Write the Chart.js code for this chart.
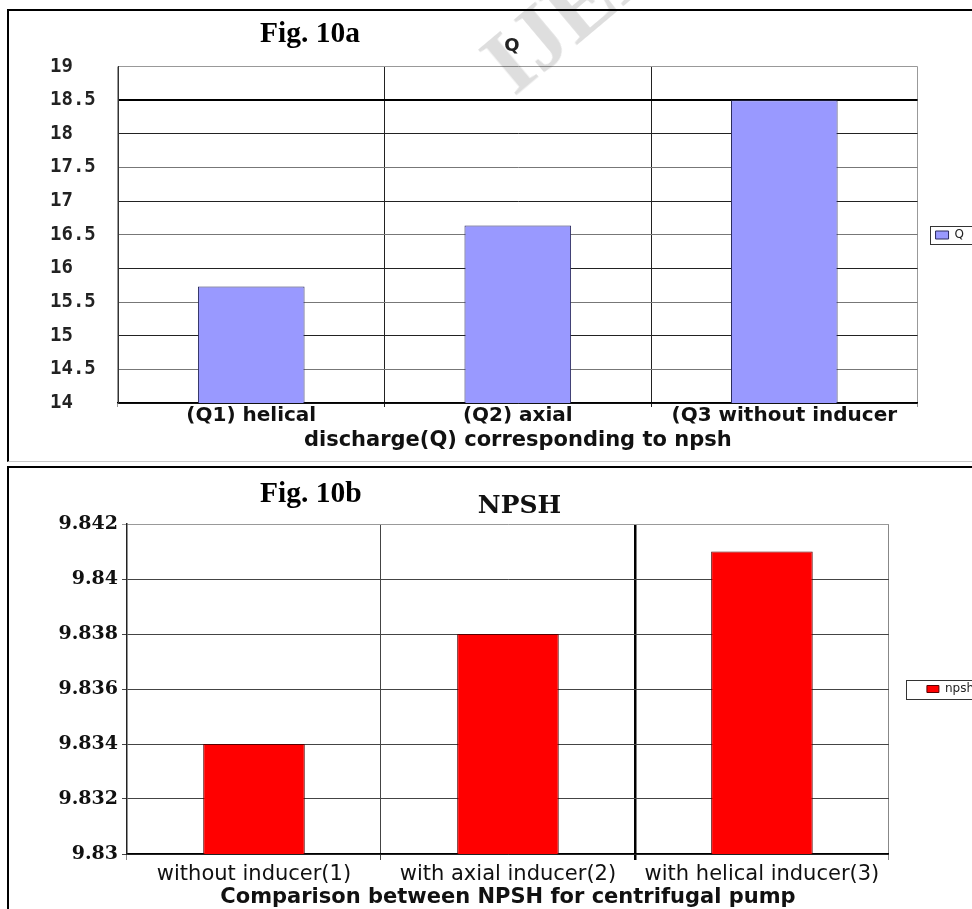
<!DOCTYPE html>
<html>
<head>
<meta charset="utf-8">
<title>Fig. 10 – discharge and NPSH</title>
<script src="https://cdn.jsdelivr.net/npm/chart.js@4.4.1/dist/chart.umd.min.js"></script>
<style>
  html, body { margin: 0; padding: 0; background: #fff; }
  body { width: 972px; height: 909px; overflow: hidden; position: relative; }
  .frame { position: absolute; border-left: 2px solid #000; border-top: 2px solid #000; box-sizing: content-box; }
  #frame1 { left: 7px; top: 9px; width: 1000px; height: 450px; border-bottom: 1px solid #c8c8c8; }
  #frame2 { left: 7px; top: 466px; width: 1000px; height: 460px; }
  canvas { position: absolute; }
  #chartQ { left: 10px; top: 12px; }
  #chartNpsh { left: 10px; top: 469px; }
  .fig { position: absolute; left: 260px; font: bold 29.5px "Liberation Serif", "Times New Roman", serif;
         line-height: 29.5px; color: #000; white-space: nowrap; }
  #figA { top: 18px; }
  #figB { top: 478px; }
  .stamp { position: absolute; left: 524px; top: 19px; font: bold 90px "Liberation Serif", serif;
           color: rgba(0, 0, 0, 0.13); transform: rotate(-40deg); transform-origin: 0 100%;
           white-space: nowrap; pointer-events: none; line-height: 90px; }
</style>
</head>
<body>
<div class="frame" id="frame1"></div>
<div class="frame" id="frame2"></div>
<canvas id="chartQ" width="964" height="446"></canvas>
<canvas id="chartNpsh" width="974" height="440"></canvas>
<div class="fig" id="figA">Fig. 10a</div>
<div class="fig" id="figB">Fig. 10b</div>
<div class="stamp">IJERT</div>
<script>
// Fig. 10a – discharge for each inducer configuration
const qCategories = ['(Q1) helical', '(Q2) axial', '(Q3 without inducer'];
const qValues = [15.73, 16.64, 18.5];
const qTickValues = [14, 14.5, 15, 15.5, 16, 16.5, 17, 17.5, 18, 18.5, 19];
const qTickLabels = ['14', '14.5', '15', '15.5', '16', '16.5', '17', '17.5', '18', '18.5', '19'];
const qSeriesName = 'Q';
const qTitle = 'Q';
const qAxisTitle = 'discharge(Q) corresponding to npsh';

// Fig. 10b – NPSH for each inducer configuration
const npshCategories = ['without inducer(1)', 'with axial inducer(2)', 'with helical inducer(3)'];
const npshValues = [9.834, 9.838, 9.841];
const npshTickValues = [9.83, 9.832, 9.834, 9.836, 9.838, 9.84, 9.842];
const npshTickLabels = ['9.83', '9.832', '9.834', '9.836', '9.838', '9.84', '9.842'];
const npshSeriesName = 'npsh';
const npshTitle = 'NPSH';
const npshAxisTitle = 'Comparison between NPSH for centrifugal pump';

const SANS = '"DejaVu Sans", Verdana, sans-serif';
const MONO = '"DejaVu Sans Mono", monospace';
const SERIF = '"DejaVu Serif", serif';

// thin frame drawn around the legend entry
const legendFrame = {
  id: 'legendFrame',
  afterDraw(chart, args, opts) {
    const lg = chart.legend;
    if (!lg || !lg.legendHitBoxes || !lg.legendHitBoxes.length) return;
    const hb = lg.legendHitBoxes[0];
    const ctx = chart.ctx;
    ctx.save();
    ctx.strokeStyle = opts.color || '#333';
    ctx.lineWidth = 1;
    ctx.strokeRect(Math.round(hb.left - opts.left) + 0.5, Math.round(hb.top - opts.top) + 0.5,
                   Math.round(hb.width + opts.left + opts.right), Math.round(hb.height + opts.top + opts.bottom));
    ctx.restore();
  }
};

Chart.defaults.animation = false;

new Chart(document.getElementById('chartQ'), {
  type: 'bar',
  data: {
    labels: qCategories,
    datasets: [{
      label: qSeriesName,
      data: qValues,
      backgroundColor: '#9999ff',
      borderColor: '#2b2b5e',
      borderWidth: 1,
      categoryPercentage: 1,
      barPercentage: 0.4
    }]
  },
  plugins: [legendFrame],
  options: {
    responsive: false,
    devicePixelRatio: 1,
    layout: { padding: { left: 40, right: 0, top: 0, bottom: 0 } },
    plugins: {
      tooltip: { enabled: false },
      title: {
        display: true, text: qTitle, color: '#222',
        font: { family: SANS, weight: 'bold', size: 18 },
        padding: { top: 24, bottom: 9 }
      },
      legend: {
        position: 'right',
        labels: { boxWidth: 13, boxHeight: 8, padding: 18, color: '#222', font: { family: SANS, size: 12 } }
      },
      legendFrame: { left: 6, right: 8, top: 3, bottom: 3, color: '#333' }
    },
    scales: {
      x: {
        afterFit: s => { s.height = 55; },
        ticks: { padding: -1, color: '#111', font: { family: SANS, weight: 'bold', size: 20, lineHeight: 1 } },
        grid: {
          offset: true, tickLength: 4,
          color: c => (c.index === 1 || c.index === 2) ? '#222' : '#999'
        },
        border: { color: '#000', width: 1.5 },
        title: {
          display: true, text: qAxisTitle, color: '#111',
          font: { family: SANS, weight: 'bold', size: 21, lineHeight: 1 },
          padding: { top: 0, bottom: 7 }
        }
      },
      y: {
        min: 14, max: 19,
        afterBuildTicks: s => { s.ticks = qTickValues.map(v => ({ value: v })); },
        afterFit: s => { s.width = 68; },
        ticks: {
          crossAlign: 'far', color: '#222',
          font: { family: MONO, weight: 'bold', size: 19 },
          callback: (v, i) => qTickLabels[i]
        },
        grid: {
          drawTicks: false,
          color: c => {
            const v = c.tick ? c.tick.value : null;
            if (v === 19) return '#999';
            if (v === 18.5) return '#000';
            return Number.isInteger(v) ? '#222' : '#777';
          },
          lineWidth: c => (c.tick && c.tick.value === 18.5) ? 2 : 1
        },
        border: { color: '#333', width: 1 }
      }
    }
  }
});

new Chart(document.getElementById('chartNpsh'), {
  type: 'bar',
  data: {
    labels: npshCategories,
    datasets: [{
      label: npshSeriesName,
      data: npshValues,
      backgroundColor: '#ff0000',
      borderColor: '#5a0000',
      borderWidth: 1,
      categoryPercentage: 1,
      barPercentage: 0.4
    }]
  },
  plugins: [legendFrame],
  options: {
    responsive: false,
    devicePixelRatio: 1,
    layout: { padding: { left: 45, right: 0, top: 0, bottom: 0 } },
    plugins: {
      tooltip: { enabled: false },
      title: {
        display: true, text: npshTitle, color: '#111',
        font: { family: SERIF, weight: 'bold', size: 25 },
        padding: { top: 22, bottom: 3 }
      },
      legend: {
        position: 'right',
        labels: { boxWidth: 12, boxHeight: 7, padding: 38, color: '#222', font: { family: SANS, size: 12 } }
      },
      legendFrame: { left: 21, right: 8, top: 3, bottom: 4, color: '#333' }
    },
    scales: {
      x: {
        afterFit: s => { s.height = 55; },
        ticks: { padding: 4, color: '#111', font: { family: SANS, size: 21, lineHeight: 1 } },
        grid: {
          offset: true, tickLength: 6,
          color: c => c.index === 1 ? '#444' : (c.index === 2 ? '#000' : '#888'),
          lineWidth: c => c.index === 2 ? 2.5 : 1
        },
        border: { color: '#000', width: 1.5 },
        title: {
          display: true, text: npshAxisTitle, color: '#111',
          font: { family: SANS, weight: 'bold', size: 21, lineHeight: 1 },
          padding: { top: 0, bottom: 1 }
        }
      },
      y: {
        min: 9.83, max: 9.842,
        afterBuildTicks: s => { s.ticks = npshTickValues.map(v => ({ value: v })); },
        afterFit: s => { s.width = 72; },
        ticks: {
          padding: 4, color: '#111',
          font: { family: SERIF, weight: 'bold', size: 19 },
          callback: (v, i) => npshTickLabels[i]
        },
        grid: {
          tickLength: 5,
          color: c => (c.index === npshTickValues.length - 1) ? '#999' : '#444'
        },
        border: { color: '#222', width: 1.5 }
      }
    }
  }
});
</script>
</body>
</html>
